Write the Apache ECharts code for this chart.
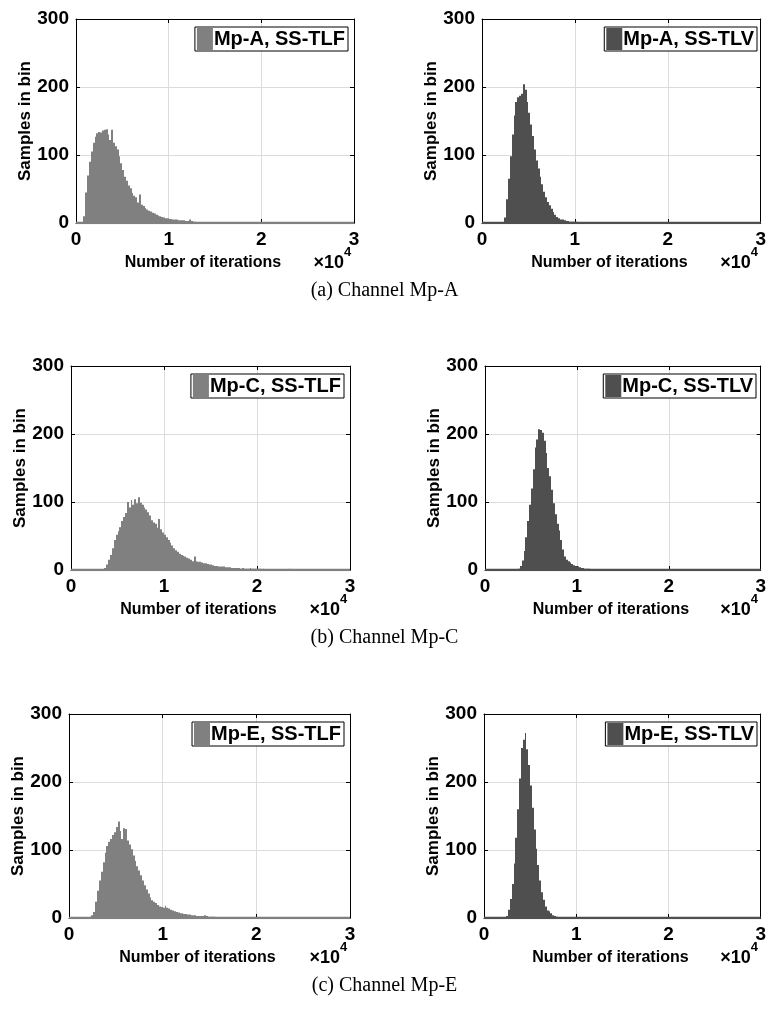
<!DOCTYPE html>
<html><head><meta charset="utf-8">
<script src="https://cdn.jsdelivr.net/npm/echarts@6/dist/echarts.min.js"></script>
<style>html,body{margin:0;padding:0;background:#fff}#c{width:769px;height:1023px}</style>
</head><body><div id="c"></div>
<script>
// ---- data ----
const binWidth = 200;
const xTickLabels = ['0', '1', '2', '3'];
const xExponent = '4';
const yTickValues = [0, 100, 200, 300];
const seriesNames = ['Mp-A, SS-TLF', 'Mp-A, SS-TLV', 'Mp-C, SS-TLF', 'Mp-C, SS-TLV', 'Mp-E, SS-TLF', 'Mp-E, SS-TLV'];
const captions = ['(a) Channel Mp-A', '(b) Channel Mp-C', '(c) Channel Mp-E'];
const xName = 'Number of iterations';
const yName = 'Samples in bin';

const mpA_TLF_start = 800;
const mpA_TLF = [10,45,70,90,105,118,127,132,134,133,136,137,138,130,122,137,118,113,108,98,88,78,68,62,55,51,44,40,38,30,42,27,25,22,20,18,17,15,14,12,11,10,9,8,7,7,6,6,5,5,5,4,4,4,4,3,3,5,3,2,2,1,1,1,1];
const mpA_TLV_start = 2400;
const mpA_TLV = [8,35,65,98,130,158,178,185,187,190,204,196,178,162,145,128,108,92,80,68,57,46,38,31,26,21,16,12,9,7,5,5,4,3,3,2,2,2,2,1,1,1];
const mpC_TLF_start = 3400;
const mpC_TLF = [1,3,8,15,22,32,44,52,57,63,72,78,84,100,92,103,96,104,98,107,99,96,92,89,85,80,73,70,68,62,75,60,55,52,48,44,40,36,32,29,27,24,22,21,20,18,17,15,13,20,13,12,12,11,10,10,9,8,8,7,6,6,5,5,5,5,4,4,4,3,3,3,3,3,2,3,2,2,2,3,2,2,2,2,2,1,2,1,1,1,1,1,1,1,1,1,1,1,1,1,2,1,1,1,1,1,1];
const mpC_TLV_start = 3600;
const mpC_TLV = [2,6,14,28,48,72,96,120,148,180,192,207,206,202,190,172,150,138,118,98,82,68,58,44,30,20,15,13,11,9,7,6,5,4,3,3,2,2,2,1,1,1,1];
const mpE_TLF_start = 2000;
const mpE_TLF = [1,2,4,9,24,40,55,68,82,96,106,112,116,122,126,134,142,128,116,132,131,114,108,101,92,84,76,70,63,55,48,42,36,30,26,24,22,19,17,16,15,18,15,14,12,11,10,9,8,7,7,6,6,5,5,4,4,4,3,3,3,3,4,3,2,2,2,2,1,1,1,1];
const mpE_TLV_start = 2400;
const mpE_TLV = [3,12,28,50,80,118,160,205,250,262,272,248,225,195,162,130,102,78,55,38,27,17,11,10,7,4,3,2,1];

const xMin = 0, xMax = 30000, xStep = 10000;
const yMin = 0, yMax = 300, yStep = 100;

// ---- layout / style ----
const W = 769;
const gridRects = [
  [76, 19, 278, 204], [482, 19, 281, 204],
  [71, 366, 279, 204], [485, 366, 277, 204],
  [69, 714, 281, 204], [484, 714, 279, 204]
];
const captionY = [290, 637, 985];
const colTLF = '#808080', colTLV = '#4f4f4f';
const FONT = '"Liberation Sans", Arial, sans-serif';

const panels = [
  [mpA_TLF_start, mpA_TLF, colTLF], [mpA_TLV_start, mpA_TLV, colTLV],
  [mpC_TLF_start, mpC_TLF, colTLF], [mpC_TLV_start, mpC_TLV, colTLV],
  [mpE_TLF_start, mpE_TLF, colTLF], [mpE_TLV_start, mpE_TLV, colTLV]
];

function binData(start, vals) {
  return vals.map((v, i) => [start + i * binWidth, start + (i + 1) * binWidth, v]);
}

const grid = [], xAxis = [], yAxis = [], series = [], legend = [];
const xs2 = [], ys2 = [];
gridRects.forEach((r, i) => {
  grid.push({left: r[0], top: r[1], width: r[2], height: r[3]});
  xAxis.push({
    type: 'value', gridIndex: i, min: xMin, max: xMax, interval: xStep,
    axisLine: {show: true, onZero: false, lineStyle: {color: '#000', width: 1}},
    axisTick: {show: true, inside: true, length: 4, lineStyle: {color: '#000'}},
    axisLabel: {color: '#000', fontFamily: FONT, fontWeight: 'bold', fontSize: 19, margin: 7,
      formatter: v => xTickLabels[Math.round(v / xStep)]},
    splitLine: {show: true, lineStyle: {color: '#dcdcdc', width: 1}},
    name: xName, nameLocation: 'middle', nameGap: 32,
    nameTextStyle: {color: '#000', fontFamily: FONT, fontWeight: 'bold', fontSize: 16, padding: [0, 24, 0, 0]}
  });
  yAxis.push({
    type: 'value', gridIndex: i, min: yMin, max: yMax, interval: yStep,
    axisLine: {show: true, onZero: false, lineStyle: {color: '#000', width: 1}},
    axisTick: {show: true, inside: true, length: 4, lineStyle: {color: '#000'}},
    axisLabel: {color: '#000', fontFamily: FONT, fontWeight: 'bold', fontSize: 19, margin: 7},
    splitLine: {show: true, lineStyle: {color: '#dcdcdc', width: 1}},
    name: yName, nameLocation: 'middle', nameGap: 42,
    nameTextStyle: {color: '#000', fontFamily: FONT, fontWeight: 'bold', fontSize: 17}
  });
  xs2.push({
    type: 'value', gridIndex: i, position: 'top', min: xMin, max: xMax, interval: xStep,
    axisLine: {show: true, onZero: false, lineStyle: {color: '#000', width: 1}},
    axisTick: {show: true, inside: true, length: 4, lineStyle: {color: '#000'}},
    axisLabel: {show: false}, splitLine: {show: false}
  });
  ys2.push({
    type: 'value', gridIndex: i, position: 'right', min: yMin, max: yMax, interval: yStep,
    axisLine: {show: true, onZero: false, lineStyle: {color: '#000', width: 1}},
    axisTick: {show: true, inside: true, length: 4, lineStyle: {color: '#000'}},
    axisLabel: {show: false}, splitLine: {show: false}
  });
  const [start, vals, col] = panels[i];
  series.push({
    type: 'custom', name: seriesNames[i], xAxisIndex: i, yAxisIndex: i,
    data: binData(start, vals), encode: {x: [0, 1], y: 2},
    itemStyle: {color: col}, z: 3, silent: true,
    renderItem: (params, api) => {
      const p0 = api.coord([api.value(0), api.value(2)]);
      const p1 = api.coord([api.value(1), 0]);
      const x0 = Math.round(p0[0]), x1 = Math.max(Math.round(p1[0]), x0 + 1);
      return {type: 'rect', shape: {x: x0, y: p0[1], width: x1 - x0, height: p1[1] - p0[1]},
        style: {fill: col}};
    }
  });
  series.push({
    type: 'line', name: 'base' + i, xAxisIndex: i, yAxisIndex: i,
    data: [[xMin, 0], [xMax, 0]], showSymbol: false, silent: true, z: 4,
    lineStyle: {color: col, width: 2.5}
  });
  legend.push({
    data: [seriesNames[i]], right: W - (r[0] + r[2]) + 6, top: r[1] + 8,
    icon: 'rect', itemWidth: 16, itemHeight: 22, itemGap: 0, selectedMode: false,
    borderColor: '#000', borderWidth: 1, borderRadius: 0, backgroundColor: '#fff', padding: [1, 3, 1, 2],
    textStyle: {color: '#000', fontFamily: FONT, fontWeight: 'bold', fontSize: 20, padding: [0, 0, 0, -4]}
  });
});

const chart = echarts.init(document.getElementById('c'), null, {renderer: 'canvas'});
chart.setOption({
  backgroundColor: '#fff', animation: false,
  grid, xAxis: xAxis.concat(xs2), yAxis: yAxis.concat(ys2), series, legend
});

const graphic = [];
for (let i = 0; i < 6; i++) {
  const p = chart.convertToPixel({xAxisIndex: i, yAxisIndex: i}, [xMax, yMin]);
  graphic.push({type: 'text', x: p[0] - 10, y: p[1] + 40, silent: true,
    style: {text: '×10', align: 'right', verticalAlign: 'middle', textAlign: 'right', textVerticalAlign: 'middle',
      font: 'bold 18px ' + FONT, fill: '#000'}});
  graphic.push({type: 'text', x: p[0] - 10, y: p[1] + 29, silent: true,
    style: {text: xExponent, align: 'left', verticalAlign: 'middle', textAlign: 'left', textVerticalAlign: 'middle',
      font: 'bold 13px ' + FONT, fill: '#000'}});
}
captions.forEach((c, k) => {
  graphic.push({type: 'text', x: W / 2, y: captionY[k] + 1, silent: true,
    style: {text: c, align: 'center', verticalAlign: 'middle', textAlign: 'center', textVerticalAlign: 'middle',
      font: '20px "Liberation Serif", "Times New Roman", serif', fill: '#000'}});
});
chart.setOption({graphic});
</script>
</body></html>
